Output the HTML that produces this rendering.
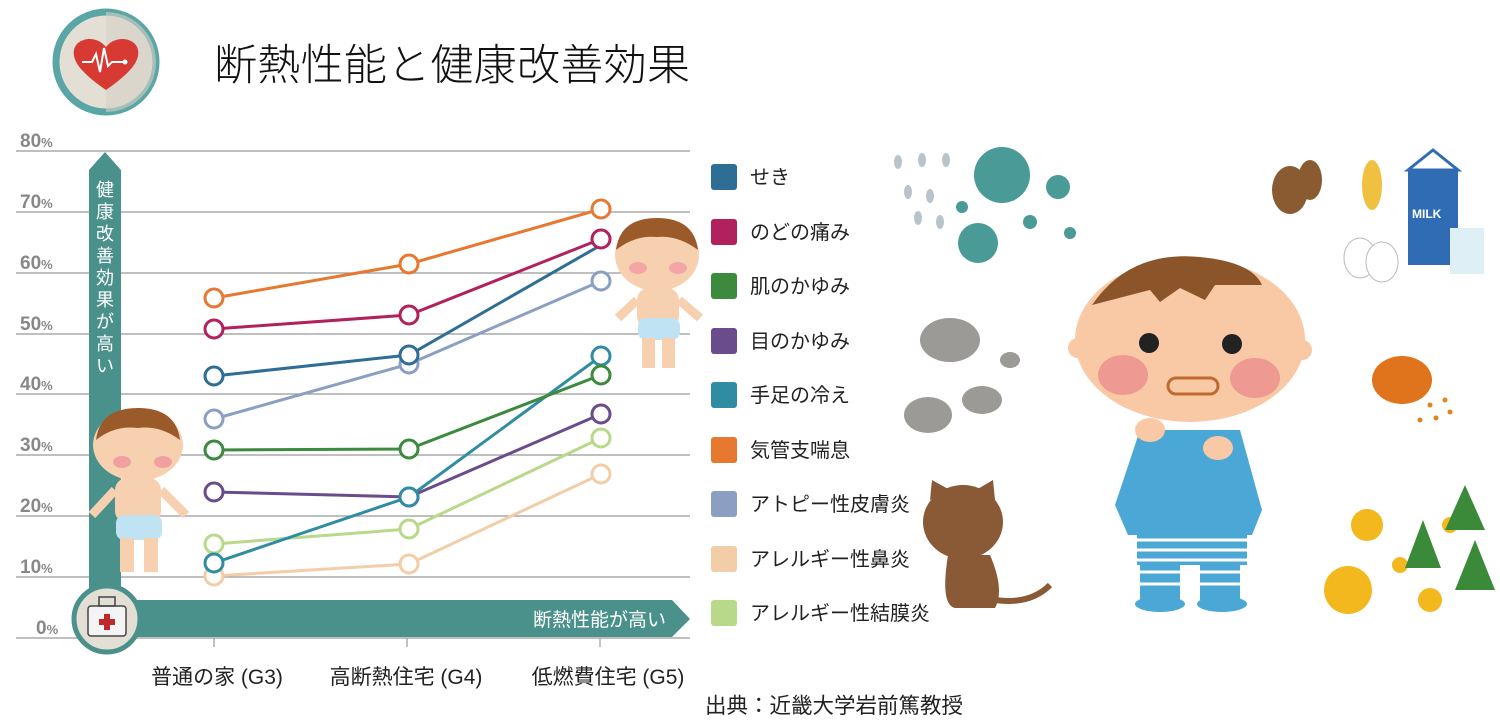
<!DOCTYPE html>
<html><head><meta charset="utf-8"><style>
body{margin:0;background:#fff;width:1500px;height:725px;overflow:hidden}
svg{display:block}
text{font-family:"Liberation Sans","Noto Sans CJK JP",sans-serif}
</style></head><body>
<svg width="1500" height="725" viewBox="0 0 1500 725">
<!-- heart icon -->
<circle cx="106" cy="62" r="50" fill="#e3dfd4" stroke="#5aa5a5" stroke-width="7"/>
<path d="M106 58 L106 112 A50 50 0 0 0 106 12 Z" fill="#d6d1c4" opacity="0.6"/>
<path d="M106 90 C80 72 72 60 74 50 C76 38 96 34 106 47 C116 34 136 38 138 50 C140 60 132 72 106 90 Z" fill="#d63a32"/>
<polyline points="82,62 92,62 96,54 100,72 104,48 108,66 112,62 124,62" fill="none" stroke="#fff" stroke-width="2"/>
<circle cx="125" cy="62" r="2.5" fill="#fff"/>
<text x="214" y="80" font-size="43" fill="#111" font-weight="300" textLength="476" lengthAdjust="spacing">断熱性能と健康改善効果</text>
<!-- grid -->
<g stroke="#999" stroke-width="1.2">
<line x1="16" y1="151" x2="690" y2="151"/><line x1="16" y1="212" x2="690" y2="212"/>
<line x1="16" y1="273" x2="690" y2="273"/><line x1="16" y1="334" x2="690" y2="334"/>
<line x1="16" y1="394" x2="690" y2="394"/><line x1="16" y1="455" x2="690" y2="455"/>
<line x1="16" y1="516" x2="690" y2="516"/><line x1="16" y1="577" x2="690" y2="577"/>
<line x1="16" y1="638" x2="690" y2="638"/>
<line x1="214" y1="638" x2="214" y2="647"/><line x1="407" y1="638" x2="407" y2="647"/><line x1="600" y1="638" x2="600" y2="647"/>
</g>
<g font-size="19" fill="#888" font-weight="bold">
<text x="20" y="147">80<tspan font-size="13">%</tspan></text><text x="20" y="208">70<tspan font-size="13">%</tspan></text>
<text x="20" y="269">60<tspan font-size="13">%</tspan></text><text x="20" y="330">50<tspan font-size="13">%</tspan></text>
<text x="20" y="390">40<tspan font-size="13">%</tspan></text><text x="20" y="451">30<tspan font-size="13">%</tspan></text>
<text x="20" y="512">20<tspan font-size="13">%</tspan></text><text x="20" y="573">10<tspan font-size="13">%</tspan></text>
<text x="36" y="634">0<tspan font-size="13">%</tspan></text>
</g>
<!-- arrows -->
<polygon points="89,170 105,152 121,170 121,615 89,615" fill="#4a918c"/>
<g font-size="18" fill="#fff" text-anchor="middle">
<text x="105" y="196">健</text><text x="105" y="218">康</text><text x="105" y="240">改</text><text x="105" y="262">善</text><text x="105" y="284">効</text><text x="105" y="306">果</text><text x="105" y="328">が</text><text x="105" y="350">高</text><text x="105" y="372">い</text>
</g>
<polygon points="110,600 672,600 690,619 672,637 110,637" fill="#4a918c"/>
<text x="666" y="626" font-size="19" fill="#fff" text-anchor="end">断熱性能が高い</text>
<circle cx="107" cy="619" r="33" fill="#e3dfd4" stroke="#4a918c" stroke-width="5"/>
<rect x="88" y="606" width="38" height="30" rx="3" fill="#f4f4f4" stroke="#444" stroke-width="1.5"/>
<rect x="99" y="597" width="16" height="9" fill="none" stroke="#444" stroke-width="1.5"/>
<path d="M104 614h6v5h5v6h-5v5h-6v-5h-5v-6h5z" fill="#c0292b"/>
<!-- babies left -->
<g>
<ellipse cx="138" cy="445" rx="45" ry="36" fill="#f7d0b0"/>
<path d="M96 440 Q100 408 138 408 Q176 408 180 440 Q160 425 138 428 Q115 425 96 440Z" fill="#9a5a2a"/>
<ellipse cx="122" cy="462" rx="9" ry="6" fill="#f1a0a0"/><ellipse cx="163" cy="462" rx="9" ry="6" fill="#f1a0a0"/>
<rect x="115" y="478" width="46" height="45" rx="12" fill="#f7d0b0"/>
<rect x="116" y="515" width="46" height="25" rx="8" fill="#bfe3f2"/>
<rect x="120" y="538" width="14" height="34" fill="#f7d0b0"/><rect x="144" y="538" width="14" height="34" fill="#f7d0b0"/>
<path d="M115 490 L92 515 M161 490 L186 515" stroke="#f7d0b0" stroke-width="9"/>
</g>
<g>
<ellipse cx="657" cy="255" rx="42" ry="36" fill="#f7d0b0"/>
<path d="M616 250 Q620 218 657 218 Q694 218 698 250 Q678 235 657 237 Q635 235 616 250Z" fill="#9a5a2a"/>
<ellipse cx="638" cy="268" rx="9" ry="6" fill="#f4a6a6"/><ellipse cx="678" cy="268" rx="9" ry="6" fill="#f4a6a6"/>
<rect x="637" y="288" width="42" height="40" rx="12" fill="#f7d0b0"/>
<rect x="638" y="318" width="42" height="22" rx="8" fill="#bfe3f2"/>
<rect x="642" y="338" width="13" height="30" fill="#f7d0b0"/><rect x="662" y="338" width="13" height="30" fill="#f7d0b0"/>
<path d="M637 300 L618 318 M679 300 L700 318" stroke="#f7d0b0" stroke-width="9"/>
</g>
<!-- series -->
<g fill="#fff" stroke-width="3">
<g stroke="#f2cda8"><polyline fill="none" points="214,576 409,564 601,474"/><circle cx="214" cy="576" r="9"/><circle cx="409" cy="564" r="9"/><circle cx="601" cy="474" r="9"/></g>
<g stroke="#b8d98a"><polyline fill="none" points="214,544 409,529 601,438"/><circle cx="214" cy="544" r="9"/><circle cx="409" cy="529" r="9"/><circle cx="601" cy="438" r="9"/></g>
<g stroke="#6a4c8c"><polyline fill="none" points="214,492 409,497 601,414"/><circle cx="214" cy="492" r="9"/><circle cx="409" cy="497" r="9"/><circle cx="601" cy="414" r="9"/></g>
<g stroke="#2f8ca3"><polyline fill="none" points="214,563 409,497 601,356"/><circle cx="214" cy="563" r="9"/><circle cx="409" cy="497" r="9"/><circle cx="601" cy="356" r="9"/></g>
<g stroke="#3c8a3e"><polyline fill="none" points="214,450 409,449 601,375"/><circle cx="214" cy="450" r="9"/><circle cx="409" cy="449" r="9"/><circle cx="601" cy="375" r="9"/></g>
<g stroke="#8a9fc2"><polyline fill="none" points="214,419 409,364 601,281"/><circle cx="214" cy="419" r="9"/><circle cx="409" cy="364" r="9"/><circle cx="601" cy="281" r="9"/></g>
<g stroke="#2e6d94"><polyline fill="none" points="214,376 409,355 601,245"/><circle cx="214" cy="376" r="9"/><circle cx="409" cy="355" r="9"/></g>
<g stroke="#b0215e"><polyline fill="none" points="214,329 409,315 601,239"/><circle cx="214" cy="329" r="9"/><circle cx="409" cy="315" r="9"/><circle cx="601" cy="239" r="9"/></g>
<g stroke="#e67830"><polyline fill="none" points="214,298 409,264 601,209"/><circle cx="214" cy="298" r="9"/><circle cx="409" cy="264" r="9"/><circle cx="601" cy="209" r="9"/></g>
</g>
<g font-size="21" fill="#222" text-anchor="middle">
<text x="217" y="684">普通の家 (G3)</text><text x="406" y="684">高断熱住宅 (G4)</text><text x="608" y="684">低燃費住宅 (G5)</text>
</g>
<text x="705" y="713" font-size="21.5" fill="#222">出典：近畿大学岩前篤教授</text>
<!-- legend -->
<g font-size="20" fill="#222">
<rect x="711" y="164" width="26" height="26" rx="3" fill="#2e6d94"/><text x="750" y="184">せき</text>
<rect x="711" y="219" width="26" height="26" rx="3" fill="#b0215e"/><text x="750" y="239">のどの痛み</text>
<rect x="711" y="273" width="26" height="26" rx="3" fill="#3c8a3e"/><text x="750" y="293">肌のかゆみ</text>
<rect x="711" y="328" width="26" height="26" rx="3" fill="#6a4c8c"/><text x="750" y="348">目のかゆみ</text>
<rect x="711" y="382" width="26" height="26" rx="3" fill="#2f8ca3"/><text x="750" y="402">手足の冷え</text>
<rect x="711" y="437" width="26" height="26" rx="3" fill="#e67830"/><text x="750" y="457">気管支喘息</text>
<rect x="711" y="491" width="26" height="26" rx="3" fill="#8a9fc2"/><text x="750" y="511">アトピー性皮膚炎</text>
<rect x="711" y="546" width="26" height="26" rx="3" fill="#f2cda8"/><text x="750" y="566">アレルギー性鼻炎</text>
<rect x="711" y="600" width="26" height="26" rx="3" fill="#b8d98a"/><text x="750" y="620">アレルギー性結膜炎</text>
</g>
<!-- right illustrations -->
<g fill="#4a9a98">
<circle cx="1002" cy="175" r="28"/><circle cx="978" cy="243" r="20"/><circle cx="1058" cy="187" r="12"/><circle cx="1030" cy="222" r="7"/><circle cx="962" cy="207" r="6"/><circle cx="1070" cy="233" r="6"/>
</g>
<g fill="#b8c4cc"><ellipse cx="898" cy="162" rx="4" ry="7"/><ellipse cx="922" cy="160" rx="4" ry="7"/><ellipse cx="946" cy="160" rx="4" ry="7"/><ellipse cx="908" cy="192" rx="4" ry="7"/><ellipse cx="930" cy="196" rx="4" ry="7"/><ellipse cx="918" cy="218" rx="4" ry="7"/><ellipse cx="940" cy="222" rx="4" ry="7"/></g>
<g fill="#9c9a96"><ellipse cx="950" cy="340" rx="30" ry="22"/><ellipse cx="928" cy="415" rx="24" ry="18"/><ellipse cx="982" cy="400" rx="20" ry="14"/><ellipse cx="1010" cy="360" rx="10" ry="8"/></g>
<g fill="#8a5a36"><ellipse cx="963" cy="522" rx="40" ry="37"/><path d="M930 500 L932 480 L950 490Z M995 500 L993 480 L976 490Z"/><path d="M948 555 Q940 605 955 608 L995 608 Q1005 590 990 555Z"/><path d="M995 600 Q1030 605 1050 585" stroke="#8a5a36" stroke-width="6" fill="none"/></g>
<g fill="#8a5a30"><ellipse cx="1290" cy="190" rx="18" ry="24"/><ellipse cx="1310" cy="180" rx="12" ry="20"/></g>
<g fill="#f0c040"><ellipse cx="1372" cy="185" rx="10" ry="25"/></g>
<rect x="1408" y="170" width="50" height="95" fill="#2f6cb3"/><polygon points="1408,170 1433,150 1458,170" fill="#fff" stroke="#2f6cb3" stroke-width="3"/>
<text x="1412" y="218" font-size="12" fill="#fff" font-weight="bold">MILK</text>
<rect x="1450" y="228" width="34" height="46" fill="#dfeff6"/>
<ellipse cx="1360" cy="258" rx="16" ry="20" fill="#fff" stroke="#bbb"/><ellipse cx="1382" cy="262" rx="16" ry="20" fill="#fff" stroke="#bbb"/>
<ellipse cx="1402" cy="380" rx="30" ry="24" fill="#e0741c"/>
<g fill="#e0841c"><circle cx="1430" cy="405" r="2.5"/><circle cx="1445" cy="400" r="2.5"/><circle cx="1450" cy="412" r="2.5"/><circle cx="1436" cy="418" r="2.5"/><circle cx="1420" cy="420" r="2.5"/></g>
<g fill="#f2b81e"><circle cx="1367" cy="525" r="16"/><circle cx="1348" cy="590" r="24"/><circle cx="1430" cy="600" r="12"/><circle cx="1400" cy="565" r="8"/><circle cx="1450" cy="525" r="8"/></g>
<g fill="#3a8a3a"><polygon points="1465,485 1445,530 1485,530"/><polygon points="1423,520 1405,568 1441,568"/><polygon points="1475,540 1455,590 1495,590"/></g>
<!-- sick boy -->
<g>
<path d="M1140 430 L1240 430 L1262 510 L1252 535 L1128 535 L1115 505Z" fill="#4ba8d6"/>
<g fill="#4ba8d6"><rect x="1137" y="530" width="110" height="35"/><rect x="1140" y="560" width="40" height="40"/><rect x="1200" y="560" width="40" height="40"/><ellipse cx="1160" cy="604" rx="25" ry="8"/><ellipse cx="1222" cy="604" rx="25" ry="8"/></g>
<g stroke="#fff" stroke-width="3"><line x1="1137" y1="540" x2="1247" y2="540"/><line x1="1137" y1="550" x2="1247" y2="550"/><line x1="1137" y1="560" x2="1247" y2="560"/><line x1="1140" y1="572" x2="1240" y2="572"/><line x1="1140" y1="584" x2="1240" y2="584"/></g>
<ellipse cx="1190" cy="340" rx="115" ry="82" fill="#f8c9a4"/>
<circle cx="1078" cy="348" r="10" fill="#f8c9a4"/><circle cx="1302" cy="350" r="10" fill="#f8c9a4"/>
<path d="M1092 305 Q1130 250 1200 257 Q1252 262 1262 285 L1215 285 L1205 300 L1180 288 L1160 302 L1150 290 Z" fill="#8b5429"/>
<ellipse cx="1123" cy="375" rx="25" ry="20" fill="#eb8d8d" opacity="0.8"/><ellipse cx="1255" cy="378" rx="25" ry="20" fill="#eb8d8d" opacity="0.8"/>
<circle cx="1149" cy="343" r="10" fill="#222"/><circle cx="1232" cy="344" r="10" fill="#222"/>
<rect x="1168" y="378" width="50" height="16" rx="8" fill="none" stroke="#c06a30" stroke-width="3"/>
<ellipse cx="1150" cy="430" rx="15" ry="12" fill="#f8c9a4"/><ellipse cx="1218" cy="448" rx="15" ry="12" fill="#f8c9a4"/>
</g>
</svg>
</body></html>
